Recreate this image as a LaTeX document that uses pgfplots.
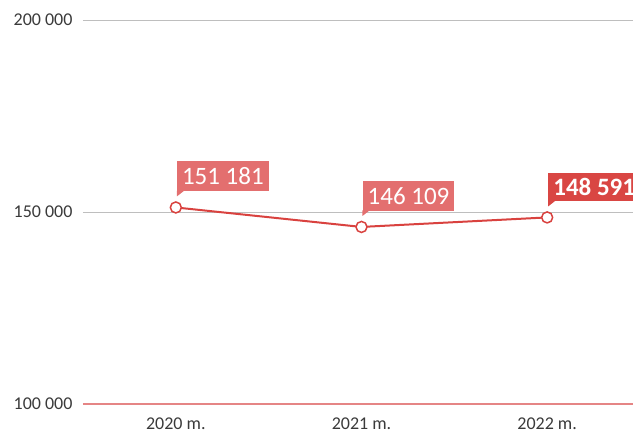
\documentclass[border=0pt]{standalone}
\usepackage{fontspec}
\setmainfont{Carlito}
\usepackage{pgfplots}
\pgfplotsset{compat=1.18}
\definecolor{linered}{HTML}{D9423F}
\definecolor{lightlab}{HTML}{E36F6F}
\definecolor{darklab}{HTML}{D94643}
\definecolor{basepink}{HTML}{E58585}
\definecolor{gridgray}{HTML}{BEBEBE}
\definecolor{ticktext}{HTML}{3A3A3A}
\pgfdeclareplotmark{tail}{%
  \pgfpathmoveto{\pgfpoint{1pt}{16.5pt}}%
  \pgfpathlineto{\pgfpoint{1pt}{11pt}}%
  \pgfpathlineto{\pgfpoint{8pt}{16.5pt}}%
  \pgfpathclose\pgfusepathqfill}
\begin{document}
\begin{tikzpicture}
\path[use as bounding box, clip] (0,0) rectangle (633pt,435pt);
\begin{axis}[
  at={(83pt,31pt)}, anchor=south west,
  scale only axis, width=557pt, height=384pt,
  xmin=-0.5, xmax=2.5, ymin=100000, ymax=200000,
  xtick={0,1,2}, xticklabels={2020 m.,2021 m.,2022 m.},
  ytick={150000,200000},
  extra y ticks={100000},
  extra y tick style={grid style={basepink, line width=1.2pt}},
  scaled y ticks=false,
  ymajorgrids, grid style={gridgray, line width=1pt},
  axis line style={draw=none},
  major tick length=0pt,
  /pgf/number format/assume math mode=true,
  /pgf/number format/fixed,
  /pgf/number format/1000 sep={\ },
  tick label style={font=\fontsize{18}{20}\selectfont, text=ticktext},
  xticklabel style={yshift=-10pt},
  yticklabel style={xshift=-7pt},
  clip=false,
]
\addplot[linered, line width=2pt, mark=*, mark size=5.5pt,
  mark options={fill=white, draw=linered, line width=1.5pt}]
  coordinates {(0,151181) (1,146109) (2,148591)};
\addplot[only marks, mark=tail, mark options={fill=lightlab, draw=none},
  point meta=explicit symbolic, nodes near coords,
  every node near coord/.style={anchor=south west, fill=lightlab, text=white,
    font=\fontsize{25}{27}\selectfont, inner xsep=5pt, inner ysep=0pt,
    minimum height=30pt, xshift=1pt, yshift=16pt}]
  coordinates {(0,151181) [151 181] (1,146109) [146 109]};
\addplot[only marks, mark=tail, mark options={fill=darklab, draw=none},
  point meta=explicit symbolic, nodes near coords,
  every node near coord/.style={anchor=south west, fill=darklab, text=white,
    font=\fontsize{25}{27}\selectfont\bfseries, inner xsep=5pt, inner ysep=0pt,
    minimum height=28pt, xshift=1pt, yshift=16pt}]
  coordinates {(2,148591) [148 591]};
\draw[gridgray, line width=1pt] (axis cs:0.5,100000) ++(0,-11pt) -- ++(0,-30pt);
\draw[gridgray, line width=1pt] (axis cs:1.5,100000) ++(0,-11pt) -- ++(0,-30pt);
\end{axis}
\end{tikzpicture}
\end{document}
